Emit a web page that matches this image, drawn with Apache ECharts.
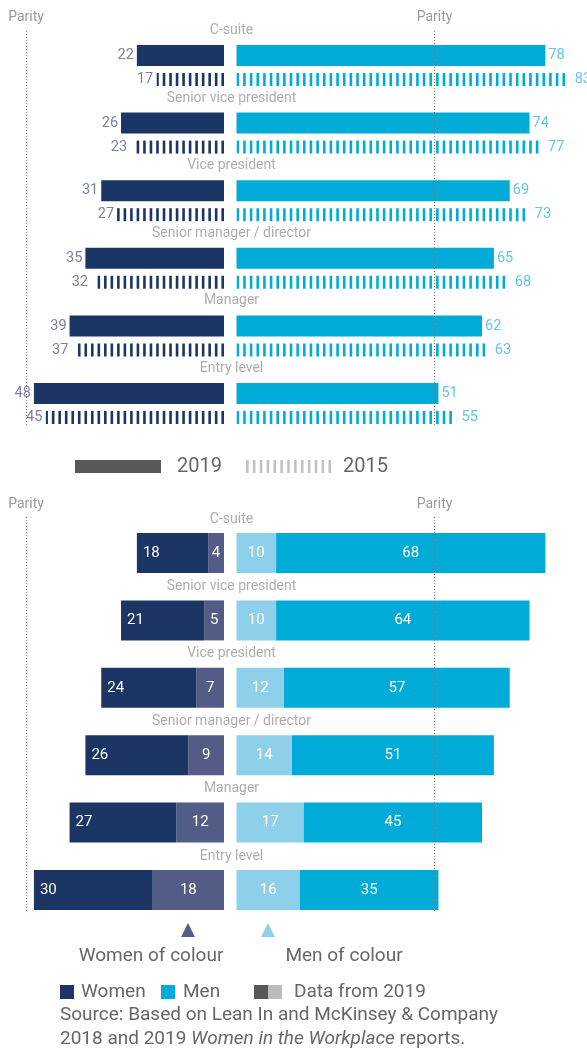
<!DOCTYPE html>
<html><head><meta charset="utf-8">
<script src="https://cdn.jsdelivr.net/npm/echarts@6/dist/echarts.min.js"></script>
<style>html,body{margin:0;padding:0;background:#fff}#c{width:587px;height:1050px}</style>
</head><body><div id="c"></div>
<script>
// ---------- data ----------
const levels = ['C-suite', 'Senior vice president', 'Vice president', 'Senior manager / director', 'Manager', 'Entry level'];
const women2019 = [22, 26, 31, 35, 39, 48];
const women2015 = [17, 23, 27, 32, 37, 45];
const men2019 = [78, 74, 69, 65, 62, 51];
const men2015 = [83, 77, 73, 68, 63, 55];
const womenNotOfColour = [18, 21, 24, 26, 27, 30];
const womenOfColour = [4, 5, 7, 9, 12, 18];
const menOfColour = [10, 10, 12, 14, 17, 16];
const menNotOfColour = [68, 64, 57, 51, 45, 35];
const parityValue = 50;

// ---------- layout / style ----------
const FONT = 'Roboto';
const PX = 3.96;
const W0 = 224, M0 = 236.5, WMAX = 55, MMAX = 88;
const NAVY = '#1b3564', CYAN = '#00acd7', WOC = '#525c87', MOC = '#8ecfea';
const WLAB = '#7b7fa5', MLAB = '#66c5e7', GREY = '#999999', TXT = '#666666';
const TOP1 = 31.7, H1 = 405.6, TOP2 = 519.3, H2 = 404.4;

const grids = [], xAxes = [], yAxes = [], series = [];
function addGrid(side, top, height, yType) {
  const g = grids.length;
  if (side === 'w') grids.push({left: W0 - WMAX * PX, width: WMAX * PX, top, height});
  else if (side === 'm') grids.push({left: M0, width: MMAX * PX, top, height});
  else grids.push({left: 231.5, width: 1, top, height});
  xAxes.push({gridIndex: g, type: 'value', min: 0, max: side === 'w' ? WMAX : MMAX, inverse: side === 'w', show: false});
  if (yType === 'value') yAxes.push({gridIndex: g, type: 'value', min: 0, max: 1, show: false});
  else yAxes.push({gridIndex: g, type: 'category', data: levels, inverse: true, show: false});
  return g;
}

// top panel
const gTW = addGrid('w', TOP1, H1), gTM = addGrid('m', TOP1, H1), gTC = addGrid('c', TOP1, H1);
// bottom panel
const gBW = addGrid('w', TOP2, H2), gBM = addGrid('m', TOP2, H2), gBC = addGrid('c', TOP2, H2);
// parity overlays
const parityGrids = [addGrid('w', 30, 395, 'value'), addGrid('m', 30, 395, 'value'),
                     addGrid('w', 517, 394, 'value'), addGrid('m', 517, 394, 'value')];

function solid(g, data, color, labColor, pos) {
  return {type: 'pictorialBar', xAxisIndex: g, yAxisIndex: g, data, symbol: 'rect',
    symbolSize: ['100%', '100%'], barWidth: 21, barGap: '33.33%', itemStyle: {color},
    label: {show: true, position: pos, distance: 3, color: labColor, fontSize: 14.5, fontFamily: FONT}};
}
function striped(g, data, color, labColor, pos) {
  return {type: 'pictorialBar', xAxisIndex: g, yAxisIndex: g, data, symbol: 'rect',
    symbolSize: [2.6, '100%'], symbolRepeat: true, symbolMargin: 2.05, symbolClip: true,
    barWidth: 13, barGap: '33.33%', itemStyle: {color},
    label: {show: true, position: pos, distance: 3, color: labColor, fontSize: 14.5, fontFamily: FONT}};
}
series.push(solid(gTW, women2019, NAVY, WLAB, 'left'));
series.push(striped(gTW, women2015, NAVY, WLAB, 'left'));
series.push(solid(gTM, men2019, CYAN, MLAB, 'right'));
series.push(striped(gTM, men2015, CYAN, MLAB, 'right'));

function seg(g, name, data, color, stack, pos) {
  return {type: 'bar', name, xAxisIndex: g, yAxisIndex: g, data, stack, barWidth: 40,
    itemStyle: {color}, label: {show: true, position: pos, distance: 6, color: '#fff', fontSize: 15, fontFamily: FONT}};
}
series.push(seg(gBW, 'Women of colour', womenOfColour, WOC, 'w', 'inside'));
series.push(seg(gBW, 'Women', womenNotOfColour, NAVY, 'w', 'insideLeft'));
series.push(seg(gBM, 'Men of colour', menOfColour, MOC, 'm', 'inside'));
series.push(seg(gBM, 'Men', menNotOfColour, CYAN, 'm', 'inside'));

// category titles above each row
function titles(g, dy) {
  return {type: 'scatter', xAxisIndex: g, yAxisIndex: g, silent: true, symbolSize: 1,
    itemStyle: {color: 'rgba(0,0,0,0)'}, data: levels.map(l => [0, l]),
    label: {show: true, position: 'inside', offset: [0, dy], formatter: p => levels[p.dataIndex],
      color: GREY, fontSize: 14, fontFamily: FONT}};
}
series.push(titles(gTC, -35));
series.push(titles(gBC, -34));

parityGrids.forEach(g => series.push({type: 'scatter', xAxisIndex: g, yAxisIndex: g, data: [], silent: true,
  markLine: {symbol: 'none', silent: true, animation: false,
    lineStyle: {color: '#777', type: [1, 2], width: 1},
    label: {formatter: 'Parity', position: 'end', distance: 6, color: GREY, fontSize: 14, fontFamily: FONT},
    data: [{xAxis: parityValue}]}}));

// ---------- legends / notes ----------
const txt = (x, y, text, extra) => Object.assign({type: 'text', x, y,
  style: Object.assign({text, fill: TXT, font: '19px ' + FONT, verticalAlign: 'middle'}, extra || {})});
const graphic = [];
graphic.push({type: 'rect', shape: {x: 75, y: 460, width: 86, height: 13}, style: {fill: '#58585a'}});
graphic.push(txt(177, 467, '2019', {font: '20px ' + FONT}));
for (let i = 0; i < 13; i++) graphic.push({type: 'rect', shape: {x: 246 + i * 6.87, y: 460, width: 2.6, height: 13}, style: {fill: '#c2c2c6'}});
graphic.push(txt(343, 467, '2015', {font: '20px ' + FONT}));

graphic.push({type: 'polygon', shape: {points: [[181, 937], [195, 937], [188, 923]]}, style: {fill: WOC}});
graphic.push({type: 'polygon', shape: {points: [[261, 937], [275, 937], [268, 923]]}, style: {fill: MOC}});
graphic.push(txt(151, 956, 'Women of colour', {align: 'center'}));
graphic.push(txt(344, 956, 'Men of colour', {align: 'center'}));

graphic.push({type: 'rect', shape: {x: 60, y: 985, width: 14, height: 14}, style: {fill: NAVY}});
graphic.push(txt(81, 992, 'Women'));
graphic.push({type: 'rect', shape: {x: 161, y: 985, width: 14, height: 14}, style: {fill: CYAN}});
graphic.push(txt(183, 992, 'Men'));
graphic.push({type: 'rect', shape: {x: 254, y: 985, width: 14, height: 14}, style: {fill: '#58585a'}});
graphic.push({type: 'rect', shape: {x: 268, y: 985, width: 14, height: 14}, style: {fill: '#bcbcc0'}});
graphic.push(txt(294, 992, 'Data from 2019'));
graphic.push(txt(60, 1015, 'Source: Based on Lean In and McKinsey & Company'));
graphic.push({type: 'text', x: 60, y: 1039, style: {
  text: '2018 and 2019 {i|Women in the Workplace} reports.', fill: TXT, font: '19px ' + FONT, verticalAlign: 'middle',
  rich: {i: {fontStyle: 'italic', fontSize: 19, fontFamily: FONT, fill: TXT}}}});

const chart = echarts.init(document.getElementById('c'), null, {renderer: 'canvas'});
chart.setOption({animation: false, backgroundColor: '#fff', textStyle: {fontFamily: FONT},
  grid: grids, xAxis: xAxes, yAxis: yAxes, series, graphic});
</script></body></html>
